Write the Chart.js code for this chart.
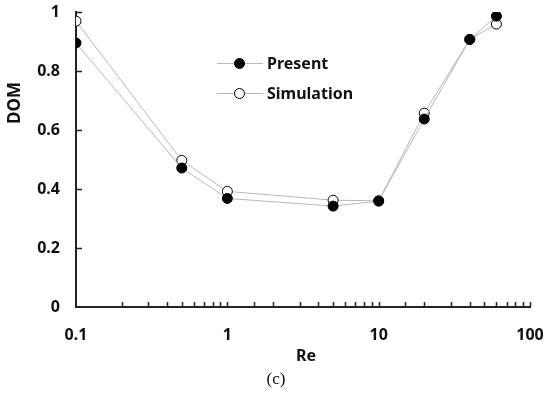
<!DOCTYPE html>
<html>
<head>
<meta charset="utf-8">
<script src="https://cdn.jsdelivr.net/npm/chart.js@4/dist/chart.umd.min.js"></script>
<style>
html,body{margin:0;padding:0;background:#fff;}
#wrap{width:550px;height:396px;position:relative;}
</style>
</head>
<body>
<div id="wrap"><canvas id="c" width="550" height="396"></canvas></div>
<script>
const reValues = [0.1, 0.5, 1, 5, 10, 20, 40, 60];
const presentValues = [0.895, 0.471, 0.368, 0.342, 0.359, 0.637, 0.907, 0.986];
const simulationValues = [0.969, 0.497, 0.392, 0.362, 0.36, 0.657, 0.907, 0.959];
const yTickValues = [0, 0.2, 0.4, 0.6, 0.8, 1];
const xTickLabels = ['0.1', '1', '10', '100'];
const seriesNames = ['Present', 'Simulation'];
const xTitle = 'Re';
const yTitle = 'DOM';
const caption = '(c)';

const FONT = "'Noto Sans', 'Open Sans', sans-serif";
const lineColor = '#b8b8b8';

function toPoints(vals){ return reValues.map((x,i)=>({x:x,y:vals[i]})); }

const decorPlugin = {
  id:'decor',
  afterDraw(chart){
    const ctx = chart.ctx;
    const xs = chart.scales.x, ys = chart.scales.y;
    const ca = chart.chartArea;
    ctx.save();
    ctx.strokeStyle = '#222';
    ctx.lineWidth = 1.5;
    yTickValues.forEach(v=>{
      const py = Math.round(ys.getPixelForValue(v))+0.5;
      if (v===0) return;
      ctx.beginPath(); ctx.moveTo(ca.left, py); ctx.lineTo(ca.left+6, py); ctx.stroke();
    });
    xs.ticks.forEach(t=>{
      const v = t.value;
      if (v <= xs.min*1.0000001) return;
      const px = Math.round(xs.getPixelForValue(v))+0.5;
      ctx.beginPath(); ctx.moveTo(px, ca.bottom); ctx.lineTo(px, ca.bottom-5); ctx.stroke();
    });
    ctx.restore();

    ctx.save();
    ctx.fillStyle = '#111';
    ctx.font = "bold 16px " + FONT;
    ctx.textAlign = 'center'; ctx.textBaseline = 'middle';
    ctx.fillText(xTitle, 306, 356);
    ctx.save();
    ctx.translate(15, 103); ctx.rotate(-Math.PI/2);
    ctx.font = "bold 17px " + FONT;
    ctx.fillText(yTitle, 0, 0);
    ctx.restore();
    ctx.font = "17px 'Liberation Serif', serif";
    ctx.fillText(caption, 276, 380);
    ctx.restore();

    const rows = [
      {name:seriesNames[0], y:63, fill:'#000'},
      {name:seriesNames[1], y:93, fill:'#fff'}
    ];
    ctx.save();
    rows.forEach(r=>{
      ctx.strokeStyle = lineColor; ctx.lineWidth = 1;
      ctx.beginPath(); ctx.moveTo(217, r.y+0.5); ctx.lineTo(263, r.y+0.5); ctx.stroke();
      ctx.beginPath(); ctx.arc(239.5, r.y+0.5, 5, 0, Math.PI*2);
      ctx.fillStyle = r.fill; ctx.fill();
      ctx.strokeStyle = '#000'; ctx.lineWidth = 1; ctx.stroke();
      ctx.fillStyle = '#111';
      ctx.font = "bold 16px " + FONT;
      ctx.textAlign = 'left'; ctx.textBaseline = 'middle';
      ctx.fillText(r.name, 267, r.y+1);
    });
    ctx.restore();
  }
};

new Chart(document.getElementById('c'), {
  type:'scatter',
  data:{
    datasets:[
      {label:seriesNames[0], data:toPoints(presentValues), showLine:true,
       borderColor:lineColor, borderWidth:1, pointRadius:5, pointHoverRadius:5,
       pointBackgroundColor:'#000', pointBorderColor:'#000', pointBorderWidth:1},
      {label:seriesNames[1], data:toPoints(simulationValues), showLine:true,
       borderColor:lineColor, borderWidth:1, pointRadius:5, pointHoverRadius:5,
       pointBackgroundColor:'#fff', pointBorderColor:'#000', pointBorderWidth:1}
    ]
  },
  options:{
    responsive:false,
    animation:false,
    events:[],
    layout:{padding:{left:0,right:20,top:12,bottom:0}},
    plugins:{legend:{display:false}, tooltip:{enabled:false}},
    scales:{
      x:{
        type:'logarithmic', min:0.1, max:100,
        grid:{display:false, drawTicks:false},
        border:{display:true, color:'#222', width:2},
        ticks:{
          autoSkip:false, maxRotation:0, padding:19,
          color:'#111', font:{family:FONT, size:16, weight:'bold'},
          callback:function(v){
            const l = Math.log10(v);
            if (Math.abs(l-Math.round(l))<1e-9){
              const idx = Math.round(l)+1;
              return xTickLabels[idx] !== undefined ? xTickLabels[idx] : '';
            }
            return '';
          }
        },
        afterFit:function(s){ s.height = 89; s.paddingLeft = 0; s.paddingRight = 0; }
      },
      y:{
        type:'linear', min:0, max:1,
        grid:{display:false, drawTicks:false},
        border:{display:true, color:'#222', width:2},
        ticks:{
          stepSize:0.2, padding:16,
          color:'#111', font:{family:FONT, size:16, weight:'bold'},
          callback:function(v){ return String(Math.round(v*10)/10); }
        },
        afterFit:function(s){ s.width = 76; s.paddingTop = 0; s.paddingBottom = 0; }
      }
    }
  },
  plugins:[decorPlugin]
});
</script>
</body>
</html>
